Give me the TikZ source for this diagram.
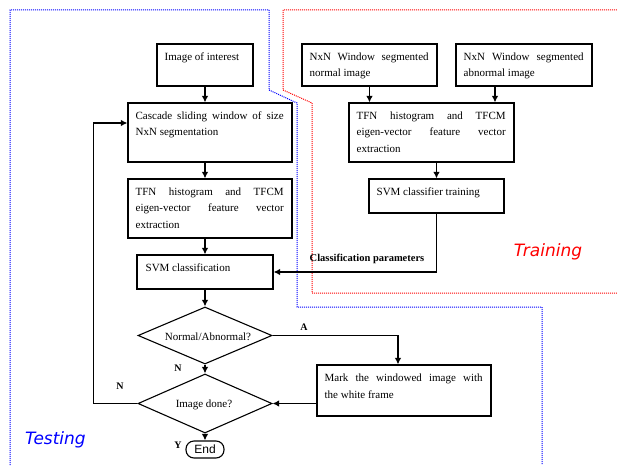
\documentclass[tikz,border=0pt]{standalone}
\usepackage{fontspec}
\setmainfont{Liberation Serif}
\newfontfamily\labelsansit{DejaVu Sans Oblique}
\newfontfamily\endsans{Liberation Sans}
\usetikzlibrary{shapes.geometric,arrows.meta}
\tikzset{
  box/.style={draw, line width=1.1pt, inner sep=0pt, rectangle},
  boxtext/.style={inner sep=0pt, anchor=north west, align=justify,
    font=\fontsize{11}{16.7}\selectfont},
  decision/.style={draw, line width=1.1pt, diamond, aspect=2.35, inner sep=0pt,
    font=\fontsize{11}{13}\selectfont},
  flow/.style={line width=1.8pt, -{Latex[length=6.5pt,width=6.5pt]}},
  loopline/.style={line width=1.3pt, -{Latex[length=6.5pt,width=6.5pt]}},
  branchlbl/.style={font=\bfseries\fontsize{10}{12}\selectfont, inner sep=0pt},
  region/.style={line width=1pt, densely dotted},
}
\begin{document}
\begin{tikzpicture}[x=1pt,y=-1pt]
\useasboundingbox (0,0) rectangle (617,465);

% regions
\draw[region, blue] (10,465) -- (10,10) -- (269,10) -- (269,90) -- (297,103) -- (297,307) -- (542,307) -- (542,465);
\draw[region, red] (617,10) -- (283,10) -- (283,90) -- (312,103) -- (312,293) -- (617,293);

% testing boxes
\node[box, minimum width=96pt, minimum height=42pt] (img) at (205,65) {};
\node[boxtext, text width=80pt] at ([xshift=8pt,yshift=-4.8pt]img.north west) {\strut Image of interest};

\node[box, minimum width=164pt, minimum height=59pt] (cas) at (210,132.5) {};
\node[boxtext, text width=148pt] at ([xshift=8pt,yshift=-4.8pt]cas.north west) {\strut Cascade sliding window of size\linebreak NxN segmentation};

\node[box, minimum width=164pt, minimum height=59pt] (tfnL) at (210,208.5) {};
\node[boxtext, text width=148pt] at ([xshift=8pt,yshift=-4.8pt]tfnL.north west) {\strut TFN histogram and TFCM\linebreak eigen-vector feature vector\linebreak extraction};

\node[box, minimum width=136pt, minimum height=34pt] (svmc) at (205,272) {};
\node[boxtext, text width=120pt] at ([xshift=9pt,yshift=-4.8pt]svmc.north west) {\strut SVM classification};

\node[decision, minimum width=134pt, minimum height=57pt] (dec1) at (205,335.5) {};
\node[inner sep=0pt, font=\fontsize{11}{13}\selectfont] at (208,336.5) {Normal/Abnormal?};

\node[decision, minimum width=134pt, minimum height=59pt] (dec2) at (205,403.5) {};
\node[inner sep=0pt, font=\fontsize{11}{13}\selectfont] at (204,404.5) {Image done?};

\node[draw, line width=1.1pt, rounded corners=8pt, minimum width=38pt, minimum height=17pt, inner sep=0pt, font=\endsans\fontsize{12}{14}\selectfont] (endn) at (205,449.5) {End};

% training boxes
\node[box, minimum width=135pt, minimum height=42pt] (nrm) at (369.5,65) {};
\node[boxtext, text width=119pt] at ([xshift=8pt,yshift=-4.8pt]nrm.north west) {\strut NxN Window segmented\linebreak normal image};

\node[box, minimum width=136pt, minimum height=42pt] (abn) at (524,65) {};
\node[boxtext, text width=120pt] at ([xshift=8pt,yshift=-4.8pt]abn.north west) {\strut NxN Window segmented\linebreak abnormal image};

\node[box, minimum width=165pt, minimum height=59pt] (tfnR) at (431.5,132.5) {};
\node[boxtext, text width=149pt] at ([xshift=8pt,yshift=-4.8pt]tfnR.north west) {\strut TFN histogram and TFCM\linebreak eigen-vector feature vector\linebreak extraction};

\node[box, minimum width=135pt, minimum height=34pt] (svmt) at (436.5,196) {};
\node[boxtext, text width=119pt] at ([xshift=8pt,yshift=-4.8pt]svmt.north west) {\strut SVM classifier training};

\node[box, minimum width=174pt, minimum height=51pt] (mark) at (404,390.5) {};
\node[boxtext, text width=158pt] at ([xshift=8pt,yshift=-5.5pt]mark.north west) {\strut Mark the windowed image with\linebreak the white frame};

% connectors
\draw[flow] (img.south) -- (img.south |- cas.north);
\draw[flow] (img.south |- cas.south) -- (img.south |- tfnL.north);
\draw[flow] (svmc.north |- tfnL.south) -- (svmc.north);
\draw[flow] (svmc.south) -- (dec1.north);
\draw[flow] (dec1.south) -- (dec2.north);
\draw[flow] (dec2.south) -- (endn.north);
\draw[loopline] (dec2.west) -- ++(-44,0) |- ([yshift=9.5pt]cas.west);

\draw[flow] (nrm.south) -- (nrm.south |- tfnR.north);
\draw[flow] ([xshift=-29pt]abn.south) -- ([xshift=-29pt]abn.south |- tfnR.north);
\draw[flow] (svmt.north |- tfnR.south) -- (svmt.north);
\draw[flow] (svmt.south) |- (svmc.east);

\draw[flow] (dec1.east) -| ([xshift=-6pt]mark.north);
\draw[flow] (mark.west |- dec2.east) -- (dec2.east);

% labels
\node[branchlbl] at (304,327) {A};
\node[branchlbl] at (178,368) {N};
\node[branchlbl] at (120,386) {N};
\node[branchlbl] at (178,445) {Y};
\node[inner sep=0pt, font=\bfseries\fontsize{10.5}{12}\selectfont] at (367,259) {Classification parameters};
\node[inner sep=0pt, text=red, font=\labelsansit\fontsize{17}{20}\selectfont] at (548,252) {Training};
\node[inner sep=0pt, text=blue, font=\labelsansit\fontsize{17}{20}\selectfont] at (55.5,440) {Testing};
\end{tikzpicture}
\end{document}
